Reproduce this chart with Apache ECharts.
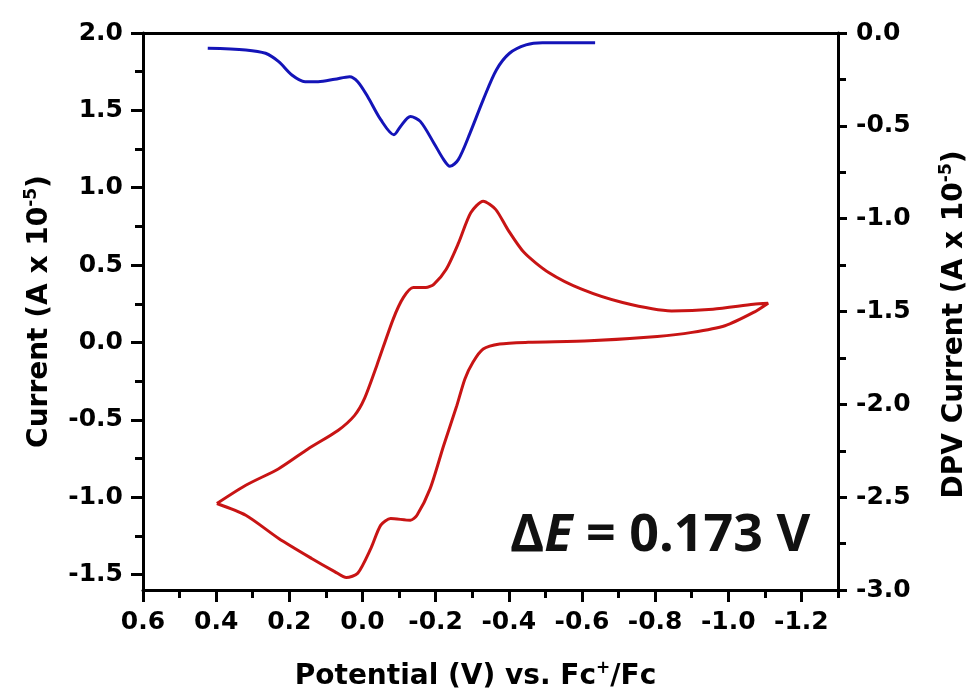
<!DOCTYPE html>
<html><head><meta charset="utf-8">
<script src="https://cdn.jsdelivr.net/npm/echarts@6/dist/echarts.min.js"></script>
<style>html,body{margin:0;padding:0;background:#fff}#c{width:977px;height:696px}</style>
</head><body><div id="c"></div>
<script>
// CV loop (potential V vs Fc+/Fc, current A x 1e-5)
const cvPotential = [0.398,0.319,0.229,0.139,0.076,0.044,0.013,-0.023,-0.050,-0.077,-0.131,-0.149,-0.185,-0.222,-0.258,-0.280,-0.302,-0.330,-0.375,-0.453,-0.621,-0.806,-0.901,-0.991,-1.069,-1.109,-1.069,-0.958,-0.845,-0.711,-0.599,-0.509,-0.442,-0.397,-0.364,-0.330,-0.296,-0.263,-0.229,-0.195,-0.173,-0.139,-0.112,-0.084,-0.039,-0.005,0.022,0.067,0.148,0.229,0.319,0.398];
const cvCurrent   = [-1.041,-1.117,-1.267,-1.396,-1.481,-1.520,-1.492,-1.331,-1.181,-1.138,-1.149,-1.117,-0.945,-0.666,-0.408,-0.236,-0.128,-0.043,-0.010,0.001,0.011,0.039,0.065,0.108,0.194,0.254,0.247,0.215,0.204,0.258,0.344,0.452,0.581,0.731,0.860,0.913,0.838,0.645,0.473,0.376,0.355,0.355,0.291,0.151,-0.150,-0.365,-0.473,-0.569,-0.687,-0.816,-0.923,-1.041];
// DPV trace
const dpvPotential = [0.423,0.319,0.265,0.229,0.193,0.157,0.121,0.076,0.035,0.013,-0.014,-0.050,-0.086,-0.104,-0.131,-0.158,-0.195,-0.222,-0.239,-0.262,-0.294,-0.330,-0.366,-0.402,-0.447,-0.492,-0.636];
const dpvCurrent   = [-0.082,-0.091,-0.109,-0.154,-0.226,-0.262,-0.262,-0.249,-0.235,-0.262,-0.342,-0.467,-0.548,-0.503,-0.450,-0.476,-0.592,-0.682,-0.718,-0.682,-0.539,-0.360,-0.199,-0.109,-0.064,-0.052,-0.052];

const xTickValues = [0.6,0.4,0.2,0.0,-0.2,-0.4,-0.6,-0.8,-1.0,-1.2];
const xMinorTickValues = [0.5,0.3,0.1,-0.1,-0.3,-0.5,-0.7,-0.9,-1.1,-1.3];
const yTickValues = [-1.5,-1.0,-0.5,0.0,0.5,1.0,1.5,2.0];
const yMinorTickValues = [-1.25,-0.75,-0.25,0.25,0.75,1.25,1.75];
const annotation = {delta:'Δ', symbol:'E', rest:' = 0.173 V'};

const FONT = 'DejaVu Sans';
const lbl = {fontFamily:FONT, fontWeight:'bold', fontSize:25, color:'#000'};
const titleRich = {
  a:{fontFamily:FONT, fontWeight:'bold', fontSize:28, color:'#000', lineHeight:34},
  s:{fontFamily:FONT, fontWeight:'bold', fontSize:17, color:'#000', verticalAlign:'top', lineHeight:34, padding:[0,0,14,0]}
};
const axLine = {show:true, onZero:false, lineStyle:{color:'#000', width:3}};
const noLine = {show:false, onZero:false};
const fmt = v => (Math.abs(v) < 1e-9 ? 0 : v).toFixed(1);

const chart = echarts.init(document.getElementById('c'), null, {renderer:'canvas'});
chart.setOption({
  animation:false,
  backgroundColor:'#fff',
  grid:{left:143, top:33, width:704, height:559, containLabel:false},
  xAxis:[
    {type:'value', min:-1.3, max:0.6, inverse:true, position:'bottom',
     axisLine:axLine, splitLine:{show:false},
     axisTick:{show:true, inside:false, length:12, lineStyle:{width:3,color:'#000'}, customValues:xTickValues},
     axisLabel:Object.assign({margin:20, formatter:fmt, customValues:xTickValues}, lbl),
     name:'{a|Potential (V) vs. Fc}{s|+}{a|/Fc}', nameLocation:'middle', nameGap:70,
     nameTextStyle:{rich:titleRich, padding:[0,30,0,0]}},
    {type:'value', min:-1.3, max:0.6, inverse:true, position:'bottom',
     axisLine:noLine, splitLine:{show:false}, axisLabel:{show:false},
     axisTick:{show:true, length:8, lineStyle:{width:3,color:'#000'}, customValues:xMinorTickValues}},
    {type:'value', min:-1.3, max:0.6, inverse:true, position:'top',
     axisLine:axLine, splitLine:{show:false}, axisLabel:{show:false}, axisTick:{show:false}}
  ],
  yAxis:[
    {type:'value', min:-1.6, max:2.0, position:'left',
     axisLine:axLine, splitLine:{show:false},
     axisTick:{show:true, length:12, lineStyle:{width:3,color:'#000'}, customValues:yTickValues},
     axisLabel:Object.assign({margin:20, formatter:fmt, customValues:yTickValues}, lbl),
     name:'{a|Current (A x 10}{s|-5}{a|)}', nameLocation:'middle', nameRotate:90, nameGap:86,
     nameTextStyle:{rich:titleRich}},
    {type:'value', min:-3.0, max:0.0, interval:0.5, position:'right',
     axisLine:axLine, splitLine:{show:false},
     axisTick:{show:true, length:9, lineStyle:{width:3,color:'#000'}},
     minorTick:{show:true, splitNumber:2, length:8, lineStyle:{width:3,color:'#000'}},
     axisLabel:Object.assign({margin:18, formatter:fmt}, lbl),
     name:'{a|DPV Current (A x 10}{s|-5}{a|)}', nameLocation:'middle', nameRotate:90, nameGap:100,
     nameTextStyle:{rich:titleRich, padding:[0,26,0,0]}},
    {type:'value', min:-1.6, max:2.0, position:'left',
     axisLine:noLine, splitLine:{show:false}, axisLabel:{show:false},
     axisTick:{show:true, length:8, lineStyle:{width:3,color:'#000'}, customValues:yMinorTickValues}}
  ],
  series:[
    {type:'line', name:'CV', xAxisIndex:0, yAxisIndex:0, showSymbol:false, smooth:0.25,
     lineStyle:{color:'#c81414', width:3}, itemStyle:{color:'#c81414'},
     data:cvPotential.map((x,i)=>[x, cvCurrent[i]])},
    {type:'line', name:'DPV', xAxisIndex:0, yAxisIndex:1, showSymbol:false, smooth:0.3,
     lineStyle:{color:'#1414b8', width:3}, itemStyle:{color:'#1414b8'},
     data:dpvPotential.map((x,i)=>[x, dpvCurrent[i]])}
  ],
  graphic:[
    {type:'text', left:510, top:510,
     style:{text:'{a|'+annotation.delta+'}{b|'+annotation.symbol+'}{a|'+annotation.rest+'}',
       rich:{a:{fontFamily:'Open Sans', fontWeight:'bold', fontSize:52, fill:'#111'},
             b:{fontFamily:'Open Sans', fontWeight:'bold', fontStyle:'italic', fontSize:52, fill:'#111'}}}}
  ]
});
</script></body></html>
